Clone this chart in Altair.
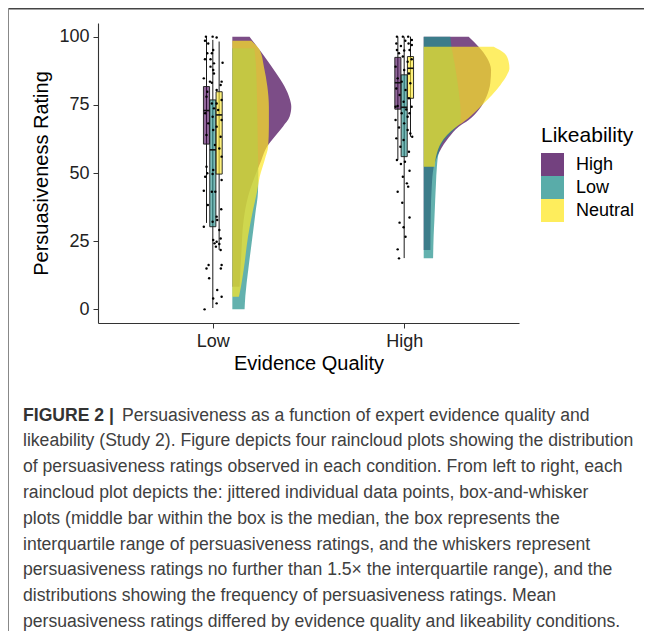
import altair as alt
import pandas as pd

LIKE = ["High", "Low", "Neutral"]
COLORS = ["#440154", "#21908C", "#FDE725"]
EQ_POS = {"Low": 1, "High": 2}
EQ_LABELS = ["Low", "High"]

# ---- half-violin clouds: rating and half-width (category units) ----
cl_low_high_r = [100, 97.5, 95.1, 91.4, 86.5, 81.7, 77.4, 74.3, 70.6, 67, 63.3, 59.6, 54.8, 48.6, 41.3, 32.8, 20.5, 8.3]
cl_low_high_w = [0.090, 0.117, 0.143, 0.181, 0.230, 0.273, 0.299, 0.308, 0.299, 0.264, 0.221, 0.181, 0.152, 0.117, 0.082, 0.059, 0.047, 0.038]
cl_low_low_r = [95.7, 90, 80, 70, 60, 50, 43, 35, 25, 15, 5, 0]
cl_low_low_w = [0.115, 0.123, 0.128, 0.131, 0.133, 0.136, 0.134, 0.120, 0.102, 0.084, 0.068, 0.064]
cl_low_neu_r = [98.5, 95.1, 89, 81.7, 74.3, 67, 59.6, 54.8, 48.6, 43.1, 36.4, 26.7, 14.4, 5.8, 4.6]
cl_low_neu_w = [0.099, 0.143, 0.165, 0.183, 0.191, 0.191, 0.187, 0.169, 0.143, 0.129, 0.108, 0.082, 0.059, 0.038, 0.034]
cl_high_high_r = [100, 96.3, 92.2, 87.8, 83, 78, 73.1, 69.4, 67, 63, 58, 52, 45, 35, 21.8]
cl_high_high_w = [0.235, 0.287, 0.331, 0.352, 0.348, 0.328, 0.287, 0.235, 0.183, 0.131, 0.084, 0.052, 0.042, 0.037, 0.035]
cl_high_low_r = [100, 96, 90, 80, 72, 68.8, 67, 63.9, 60.9, 57.2, 52.3, 46, 40, 33, 27, 18.7]
cl_high_low_w = [0.139, 0.146, 0.162, 0.183, 0.193, 0.193, 0.172, 0.131, 0.096, 0.078, 0.069, 0.064, 0.060, 0.056, 0.052, 0.049]
cl_high_neu_r = [96.3, 93.9, 90.8, 88.4, 85.9, 82.3, 78.6, 74.9, 71.3, 68.8, 66.7, 63.9, 60.9, 57.2, 52.3]
cl_high_neu_w = [0.366, 0.422, 0.444, 0.448, 0.435, 0.401, 0.357, 0.305, 0.252, 0.209, 0.166, 0.122, 0.090, 0.069, 0.057]

# ---- box-and-whisker stats ----
box_eq = ["Low", "Low", "Low", "High", "High", "High"]
box_like = ["High", "Low", "Neutral", "High", "Low", "Neutral"]
box_lo = [31.7, 0.5, 21.8, 54.8, 18.8, 63.3]
box_q1 = [60.6, 30.3, 49.6, 73.4, 56.0, 77.4]
box_med = [72.9, 58.5, 71.3, 83.1, 74.1, 88.4]
box_q3 = [81.7, 76.8, 79.8, 92.4, 86.0, 92.7]
box_hi = [100, 98.8, 98.2, 100, 100, 100]

# ---- jittered raw points: rating and jitter offset ----
low_pts_r = [100, 100, 99.7, 98.5, 97.5, 95.1, 93.9, 93.9, 91.7, 91.7, 90.2, 89, 87.8, 90.4, 86.5, 84.7, 83.5, 83.1,
             83.5, 82.3, 80.4, 79.8, 78, 76.8, 75.5, 75.5, 73.7, 73.1, 71.9, 69.4, 70.6, 68.2, 67, 65.8, 63.3, 63.9,
             60.3, 59, 56, 52.3, 51.1, 49.9, 49.6, 48.6, 47.4, 43.5, 43.1, 43.1, 38.3, 36.7, 34, 30.3, 32.8, 32.1,
             29.1, 25.4, 26, 24.8, 24.2, 24, 23, 21.8, 16.3, 15, 16.3, 15, 11.4, 7.1, 4.6, 4, 2.2, 0]
low_pts_dx = [-0.036, -0.001, 0.02, -0.041, -0.024, 0.002, -0.029, -0.005, -0.012, -0.041, 0.006, -0.012, 0.002, 0.051,
              0.006, -0.047, -0.015, -0.005, 0.046, 0.041, 0.02, -0.029, -0.033, 0.046, -0.005, 0.02, 0.006, 0.028,
              -0.04, 0.046, -0.001, -0.024, 0.02, 0.002, 0.041, -0.033, 0.011, 0.034, 0.046, -0.033, 0.002, -0.029,
              -0.001, -0.04, 0.046, -0.047, -0.005, 0.013, -0.026, 0.044, 0.02, -0.047, 0.023, -0.001, 0.034, 0.002,
              0.041, 0.02, 0.009, 0.034, 0.016, 0.041, -0.022, -0.033, 0.046, 0.042, -0.019, 0.023, 0.046, 0.002,
              0.02, -0.043]
high_pts_r = [100, 100, 100, 98.8, 98.5, 97.5, 97.5, 96.6, 96.9, 95.1, 94.9, 95.1, 93.9, 92.7, 90.8, 91.7, 89, 87.8,
              86.5, 84.7, 83.5, 82.9, 81, 80.4, 78.6, 77.4, 76.1, 74.6, 74.3, 73.3, 71.9, 71.9, 69.4, 68.2, 66.7, 65.8,
              63.3, 62.7, 62.1, 59.6, 57.8, 54.8, 54.1, 53.3, 50.8, 48.6, 46.2, 43.1, 45, 39.1, 33.7, 31.8, 30.1,
              26.6, 22, 18.7, 70.6, 64.5, 74.3]
high_pts_dx = [-0.038, -0.007, 0.021, 0.04, 0.006, -0.041, 0.023, -0.017, 0.04, -0.038, 0.0, 0.028, -0.027, -0.007,
               0.018, 0.039, -0.045, 0.0, 0.025, -0.034, -0.013, 0.032, -0.041, 0.007, -0.024, 0.025, -0.003, -0.034,
               0.039, 0.011, -0.013, 0.028, -0.045, 0.0, -0.027, 0.018, 0.042, -0.041, -0.003, -0.02, 0.025, -0.038,
               0.004, -0.017, 0.028, -0.007, 0.014, -0.034, 0.021, -0.01, 0.028, -0.024, -0.003, 0.007, -0.034,
               -0.027, 0.018, 0.032, -0.045]

# ---- caption ----
caption_bold = "FIGURE 2 |"
caption_first = "Persuasiveness as a function of expert evidence quality and"
caption_lines = [
    "likeability (Study 2). Figure depicts four raincloud plots showing the distribution",
    "of persuasiveness ratings observed in each condition. From left to right, each",
    "raincloud plot depicts the: jittered individual data points, box-and-whisker",
    "plots (middle bar within the box is the median, the box represents the",
    "interquartile range of persuasiveness ratings, and the whiskers represent",
    "persuasiveness ratings no further than 1.5\u00d7 the interquartile range), and the",
    "distributions showing the frequency of persuasiveness ratings. Mean",
    "persuasiveness ratings differed by evidence quality and likeability conditions.",
]

FONT = "Liberation Sans"
CAP_SIZE = 17.6
CLOUD_NUDGE = 0.102
DODGE = 0.033
HALF_BOX = 0.016

# ---------- tables ----------
cloud_sets = [
    ("Low", "High", cl_low_high_r, cl_low_high_w),
    ("High", "High", cl_high_high_r, cl_high_high_w),
    ("Low", "Low", cl_low_low_r, cl_low_low_w),
    ("High", "Low", cl_high_low_r, cl_high_low_w),
    ("Low", "Neutral", cl_low_neu_r, cl_low_neu_w),
    ("High", "Neutral", cl_high_neu_r, cl_high_neu_w),
]
rows = []
for eq, like, rs, ws in cloud_sets:
    base = EQ_POS[eq] + CLOUD_NUDGE
    for r, w in zip(rs, ws):
        rows.append({"eq": eq, "like": like, "rating": r, "xb": base, "xr": base + w})
clouds = pd.DataFrame(rows)

boxes = pd.DataFrame({"eq": box_eq, "like": box_like, "lo": box_lo, "q1": box_q1,
                      "med": box_med, "q3": box_q3, "hi": box_hi})
boxes["x"] = [EQ_POS[e] + (LIKE.index(l) - 1) * DODGE for e, l in zip(box_eq, box_like)]
boxes["xl"] = boxes["x"] - HALF_BOX
boxes["xh"] = boxes["x"] + HALF_BOX

pts = pd.DataFrame({
    "rating": low_pts_r + high_pts_r,
    "x": [EQ_POS["Low"] + d for d in low_pts_dx] + [EQ_POS["High"] + d for d in high_pts_dx],
})

XSCALE = alt.Scale(domain=[0.4, 2.6], nice=False, zero=False)
YSCALE = alt.Scale(domain=[-5, 105], nice=False, zero=False)
XAXIS = alt.Axis(values=[1, 2], labelExpr="datum.value == 1 ? 'Low' : 'High'",
                 title="Evidence Quality", grid=False, labelPadding=4, titlePadding=3)
YAXIS = alt.Axis(values=[0, 25, 50, 75, 100], title="Persuasiveness Rating", grid=False,
                 labelPadding=4, titlePadding=7)


def X(f):
    return alt.X(f"{f}:Q", scale=XSCALE, axis=XAXIS, stack=None)


def Y(f):
    return alt.Y(f"{f}:Q", scale=YSCALE, axis=YAXIS)


LEGEND = alt.Legend(title="Likeability", orient="none", legendX=443, legendY=102,
                    titleFontSize=21, titleFontWeight="normal", titleColor="black", titleFont=FONT,
                    labelFontSize=18, labelFont=FONT, labelColor="black",
                    symbolType="square", symbolSize=529, symbolStrokeWidth=0, symbolOpacity=0.75,
                    rowPadding=0, labelOffset=12, titlePadding=7, padding=0)
COLOR = alt.Color("like:N", scale=alt.Scale(domain=LIKE, range=COLORS), legend=LEGEND)

layers = []
for like in LIKE:
    layers.append(
        alt.Chart(clouds[clouds["like"] == like]).mark_area(
            orient="horizontal", interpolate="monotone", opacity=0.7
        ).encode(y=Y("rating"), x=X("xr"), x2="xb", color=COLOR, detail="eq:N")
    )

layers.append(alt.Chart(boxes).mark_rule(color="#1a1a1a", strokeWidth=1).encode(
    x=X("x"), y=Y("lo"), y2="hi"))
layers.append(alt.Chart(boxes).mark_bar(stroke="#1a1a1a", strokeWidth=0.9, fillOpacity=0.6).encode(
    x=X("xl"), x2="xh", y=Y("q1"), y2="q3", color=COLOR))
layers.append(alt.Chart(boxes).mark_rule(color="#111111", strokeWidth=1.6).encode(
    x=X("xl"), x2="xh", y=Y("med")))
layers.append(alt.Chart(pts).mark_circle(size=6, color="black", opacity=1).encode(
    x=X("x"), y=Y("rating")))

# caption
one = pd.DataFrame({"a": [0]})
CAP_Y0 = 397.5
CAP_STEP = 25.8
layers.append(alt.Chart(one).mark_text(text=caption_bold, font=FONT, fontSize=CAP_SIZE, fontWeight="bold",
                                       color="#333333", align="left", baseline="alphabetic").encode(
    x=alt.value(-75), y=alt.value(CAP_Y0)))
layers.append(alt.Chart(one).mark_text(text=caption_first, font=FONT, fontSize=CAP_SIZE,
                                       color="#404040", align="left", baseline="alphabetic").encode(
    x=alt.value(24), y=alt.value(CAP_Y0)))
for i, line in enumerate(caption_lines):
    layers.append(alt.Chart(one).mark_text(text=line, font=FONT, fontSize=CAP_SIZE,
                                           color="#404040", align="left", baseline="alphabetic").encode(
        x=alt.value(-75), y=alt.value(CAP_Y0 + CAP_STEP * (i + 1))))

# frame
layers.append(alt.Chart(one).mark_rule(color="#444444", strokeWidth=1.5).encode(
    x=alt.value(-90), x2=alt.value(560), y=alt.value(-14.2)))
layers.append(alt.Chart(one).mark_rule(color="#888888", strokeWidth=1.2).encode(
    x=alt.value(-89.6), y=alt.value(-15), y2=alt.value(610)))

chart = alt.layer(*layers).properties(
    width=421, height=300,
    autosize=alt.AutoSizeParams(type="none"),
    padding={"left": 90, "top": 15, "right": 125, "bottom": 308},
).configure_view(stroke=None).configure_axis(
    domainColor="#333333", domainWidth=1.1, tickColor="#333333", tickSize=5, tickWidth=1,
    labelFont=FONT, labelFontSize=18, labelColor="#222222",
    titleFont=FONT, titleFontSize=20, titleFontWeight="normal", titleColor="black",
)

chart.save("out.html", embed_options={"renderer": "svg", "actions": False})
